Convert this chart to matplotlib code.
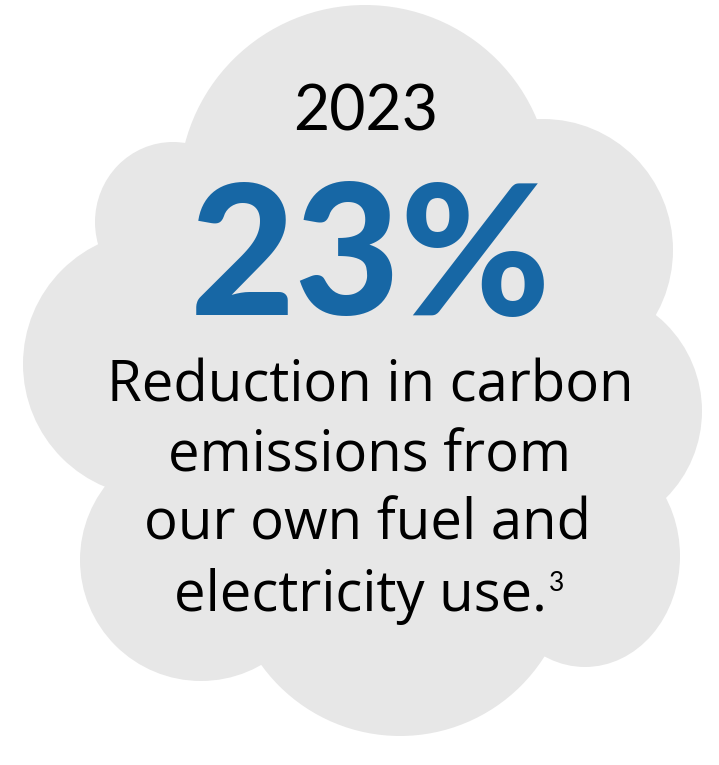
import matplotlib
matplotlib.use("Agg")
import matplotlib.pyplot as plt
from matplotlib.patches import Ellipse

# ---- data ----
year_label = "2023"
reduction_pct = 23
description_lines = ["Reduction in carbon", "emissions from", "our own fuel and", "electricity use."]
footnote_mark = "3"

# ---- styles ----
CLOUD = "#e7e7e7"
BLUE = "#1767a5"
FONT = "Lato"
BODY_FONT = "Open Sans"

W, H = 719, 765
fig = plt.figure(figsize=(W / 100, H / 100), dpi=100)
ax = fig.add_axes([0, 0, 1, 1])
ax.set_xlim(0, W)
ax.set_ylim(H, 0)
ax.axis("off")

# cloud lobes: (cx, cy, width, height)
lobes = [
    (380, 420, 520, 520),   # body
    (365, 190, 372, 370),   # top
    (173, 222, 156, 160),   # upper-left
    (156, 364, 266, 266),   # left
    (201, 560, 242, 242),   # lower-left
    (400, 565, 342, 342),   # bottom
    (585, 556, 190, 222),   # lower-right
    (579, 411, 246, 246),   # right
    (543, 250, 260, 262),   # upper-right
]
for cx, cy, w, h in lobes:
    ax.add_patch(Ellipse((cx, cy), w, h, facecolor=CLOUD, edgecolor="none"))

ax.text(366, 130, year_label, ha="center", va="baseline", fontsize=45,
        family=FONT, color="black")
ax.text(370, 315, f"{reduction_pct}%", ha="center", va="baseline", fontsize=131,
        family=FONT, fontweight="black", color=BLUE)

baselines = [401, 471, 540, 611]
centers = [370, 369, 368, 360]
texts = []
for line, yb, xc in zip(description_lines, baselines, centers):
    t = ax.text(xc, yb, line, ha="center", va="baseline", fontsize=40.5,
                family=BODY_FONT, color="black")
    texts.append(t)

fig.canvas.draw()
r = fig.canvas.get_renderer()
bb = texts[-1].get_window_extent(r)
x_end = ax.transData.inverted().transform((bb.x1, bb.y0))[0]
ax.text(x_end + 2, 591, footnote_mark, ha="left", va="baseline", fontsize=19,
        family=FONT, color="black")

fig.savefig("out.png", dpi=100)
